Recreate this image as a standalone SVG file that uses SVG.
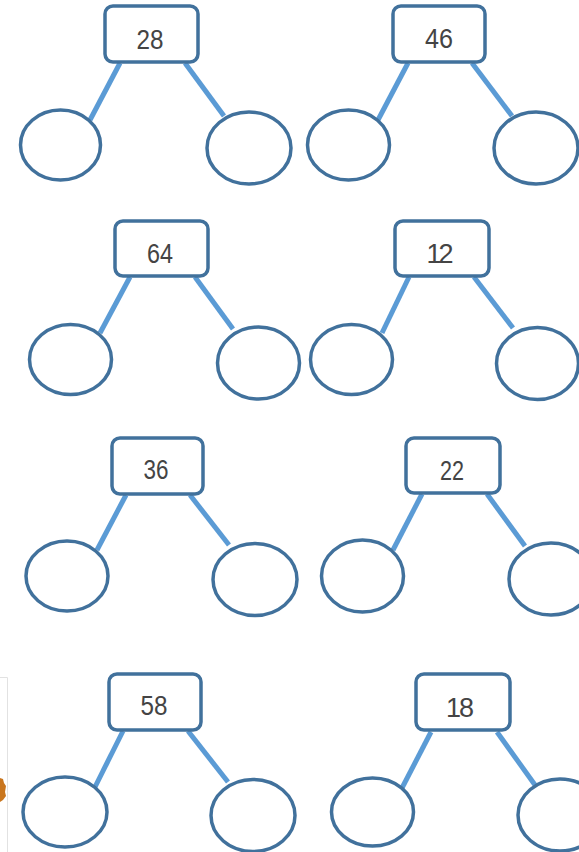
<svg xmlns="http://www.w3.org/2000/svg" width="579" height="852" viewBox="0 0 579 852">
<style>
.box{fill:#fff;stroke:#41719C;stroke-width:3.5}
.leaf{fill:#fff;stroke:#41719C;stroke-width:3.5}
.edge{stroke:#5B9BD5;stroke-width:5;stroke-linecap:butt}
.num{font-family:"Liberation Sans",Arial,sans-serif;font-size:27px;fill:#444;text-anchor:middle}
.frame{fill:none;stroke:#e2e2e2;stroke-width:1}
</style>
<rect width="579" height="852" fill="#fff"/>
<g id="clip-edge">
<path class="frame" d="M0 677.5H7.5V852"/>
<path d="M0 778 L3 779 L4 783 L6 786 L5 792 L6 796 L3 800 L0 802 Z" fill="#C9761E"/>
</g>
<g id="connectors">
<line class="edge" x1="120" y1="63" x2="90" y2="120"/>
<line class="edge" x1="185" y1="63" x2="224" y2="116"/>
<line class="edge" x1="408" y1="63" x2="378" y2="120"/>
<line class="edge" x1="472" y1="63" x2="512" y2="116"/>
<line class="edge" x1="130" y1="277" x2="100" y2="333"/>
<line class="edge" x1="195" y1="277" x2="233" y2="329"/>
<line class="edge" x1="409" y1="277" x2="382" y2="333"/>
<line class="edge" x1="474" y1="277" x2="513" y2="328"/>
<line class="edge" x1="126" y1="495" x2="97" y2="550"/>
<line class="edge" x1="190" y1="495" x2="229" y2="545"/>
<line class="edge" x1="422" y1="494" x2="393" y2="550"/>
<line class="edge" x1="487" y1="494" x2="525" y2="546"/>
<line class="edge" x1="123" y1="731" x2="95" y2="787"/>
<line class="edge" x1="188" y1="731" x2="228" y2="782"/>
<line class="edge" x1="431" y1="732" x2="402" y2="788"/>
<line class="edge" x1="497" y1="732" x2="535" y2="785"/>
</g>
<g id="n28"><rect class="box" x="105" y="6" width="93" height="56" rx="8"/><text class="num" x="150" y="49" textLength="27" lengthAdjust="spacingAndGlyphs">28</text></g>
<g id="n28-l"><ellipse class="leaf" cx="60.5" cy="145" rx="40" ry="35"/></g>
<g id="n28-r"><ellipse class="leaf" cx="249" cy="148" rx="42" ry="36"/></g>
<g id="n46"><rect class="box" x="393" y="6" width="92" height="56" rx="8"/><text class="num" x="439" y="48" textLength="28" lengthAdjust="spacingAndGlyphs">46</text></g>
<g id="n46-l"><ellipse class="leaf" cx="348.5" cy="145" rx="41" ry="35"/></g>
<g id="n46-r"><ellipse class="leaf" cx="536" cy="148" rx="42" ry="36"/></g>
<g id="n64"><rect class="box" x="115" y="221" width="93" height="55" rx="8"/><text class="num" x="160" y="263" textLength="26" lengthAdjust="spacingAndGlyphs">64</text></g>
<g id="n64-l"><ellipse class="leaf" cx="70.5" cy="359.5" rx="41" ry="35"/></g>
<g id="n64-r"><ellipse class="leaf" cx="258.5" cy="363" rx="41" ry="36"/></g>
<g id="n12"><rect class="box" x="395" y="221" width="94" height="55" rx="8"/><text class="num" x="440" y="263" textLength="27" lengthAdjust="spacing">12</text></g>
<g id="n12-l"><ellipse class="leaf" cx="351.5" cy="359.5" rx="41" ry="35"/></g>
<g id="n12-r"><ellipse class="leaf" cx="537.5" cy="363.5" rx="41" ry="36"/></g>
<g id="n36"><rect class="box" x="112" y="438" width="91" height="56" rx="8"/><text class="num" x="156" y="479" textLength="25" lengthAdjust="spacingAndGlyphs">36</text></g>
<g id="n36-l"><ellipse class="leaf" cx="67" cy="576" rx="41" ry="35"/></g>
<g id="n36-r"><ellipse class="leaf" cx="255" cy="579.5" rx="42" ry="36"/></g>
<g id="n22"><rect class="box" x="406" y="438" width="94" height="55" rx="8"/><text class="num" x="452" y="480" textLength="24" lengthAdjust="spacingAndGlyphs">22</text></g>
<g id="n22-l"><ellipse class="leaf" cx="362.5" cy="576" rx="41" ry="36"/></g>
<g id="n22-r"><ellipse class="leaf" cx="551" cy="579" rx="42" ry="36"/></g>
<g id="n58"><rect class="box" x="109" y="674" width="92" height="56" rx="8"/><text class="num" x="154" y="715" textLength="27" lengthAdjust="spacingAndGlyphs">58</text></g>
<g id="n58-l"><ellipse class="leaf" cx="65" cy="812" rx="42" ry="35"/></g>
<g id="n58-r"><ellipse class="leaf" cx="253" cy="815.5" rx="42" ry="36"/></g>
<g id="n18"><rect class="box" x="416" y="674" width="94" height="56" rx="8"/><text class="num" x="460" y="717" textLength="28" lengthAdjust="spacing">18</text></g>
<g id="n18-l"><ellipse class="leaf" cx="372.5" cy="812" rx="41" ry="34"/></g>
<g id="n18-r"><ellipse class="leaf" cx="560" cy="815" rx="42" ry="36"/></g>
</svg>
